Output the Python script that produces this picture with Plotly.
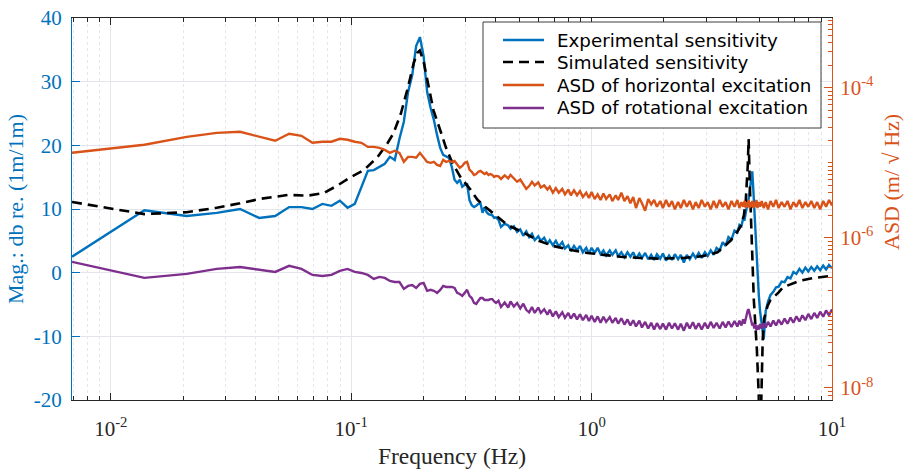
import plotly.graph_objects as go

# ---------------- data ----------------
freq_low = [0.0069, 0.0138, 0.0207, 0.0276, 0.0345, 0.0414, 0.0483, 0.0552, 0.0621, 0.069,
            0.0759, 0.0828, 0.0897, 0.0966, 0.1035, 0.1104, 0.1173, 0.1242, 0.1311, 0.138,
            0.1449, 0.1518, 0.1587, 0.1656, 0.1725, 0.1794, 0.1863, 0.1932, 0.2001, 0.207,
            0.2139, 0.2208, 0.2277, 0.2346, 0.2415, 0.2484, 0.2553, 0.2622, 0.2691, 0.276,
            0.2829, 0.2898, 0.2967, 0.3036, 0.3105, 0.3174, 0.3243, 0.3312, 0.3381, 0.345,
            0.3519, 0.3588, 0.3657, 0.3726, 0.3795, 0.3864, 0.3933, 0.4002]
freq_high = [0.41, 0.42, 0.435, 0.45, 0.46, 0.475, 0.49, 0.505, 0.52, 0.535,
             0.55, 0.565, 0.58, 0.6, 0.615, 0.635, 0.655, 0.67, 0.69, 0.71,
             0.73, 0.755, 0.775, 0.8, 0.82, 0.845, 0.87, 0.895, 0.92, 0.95,
             0.975, 1.0, 1.03, 1.06, 1.09, 1.12, 1.15, 1.19, 1.22, 1.26,
             1.29, 1.33, 1.37, 1.41, 1.45, 1.49, 1.53, 1.58, 1.62, 1.67,
             1.72, 1.77, 1.82, 1.87, 1.93, 1.98, 2.04, 2.1, 2.16, 2.22,
             2.29, 2.35, 2.42, 2.49, 2.56, 2.64, 2.71, 2.79, 2.87, 2.96,
             3.04, 3.13, 3.22, 3.31, 3.41, 3.51, 3.61, 3.71, 3.82, 3.93,
             4.04, 4.12, 4.2, 4.27, 4.33, 4.38, 4.42, 4.46, 4.5, 4.54,
             4.58, 4.62, 4.66, 4.7, 4.75, 4.8, 4.85, 4.9, 4.96, 5.02,
             5.1, 5.2, 5.3, 5.42, 5.55, 5.7, 5.85, 6.0, 6.17, 6.35,
             6.53, 6.72, 6.91, 7.11, 7.32, 7.53, 7.75, 7.97, 8.2, 8.44,
             8.68, 8.93, 9.19, 9.45, 9.72, 10.0]

exp_db_low = [2.5, 9.8, 8.9, 9.4, 10.0, 8.6, 8.9, 10.3, 10.3, 10.0,
              10.8, 10.5, 11.3, 10.2, 10.8, 13.5, 16.0, 16.1, 16.6, 17.1,
              18.2, 17.7, 21.0, 23.7, 28.4, 31.0, 35.6, 37.0, 34.0, 28.4,
              25.9, 24.0, 21.6, 19.6, 18.5, 18.2, 18.0, 16.6, 14.6, 14.1,
              14.6, 13.5, 13.8, 13.9, 11.4, 10.6, 10.3, 10.5, 10.8, 10.9,
              9.4, 10.3, 9.5, 9.2, 9.1, 9.0, 8.6, 8.7]
exp_db_high = [8.3, 7.2, 7.7, 7.4, 6.9, 7.3, 6.4, 6.8, 5.8, 6.5,
               5.6, 6.1, 5.1, 5.7, 5.0, 5.5, 4.5, 5.1, 4.3, 5.0,
               4.1, 4.8, 3.8, 4.3, 3.4, 4.2, 3.5, 4.2, 3.2, 3.9,
               3.0, 3.9, 3.1, 3.9, 2.9, 3.5, 2.7, 3.5, 2.8, 3.5,
               2.6, 3.2, 2.4, 3.2, 2.5, 3.2, 2.2, 3.0, 2.3, 3.1,
               2.1, 2.8, 2.0, 2.9, 2.2, 3.0, 1.9, 2.7, 2.0, 2.9,
               2.1, 2.8, 1.6, 2.8, 2.1, 3.0, 2.3, 3.1, 2.3, 3.2,
               2.6, 3.5, 2.8, 3.9, 3.5, 4.8, 4.2, 5.6, 5.2, 6.6,
               6.3, 7.5, 7.3, 8.5, 8.4, 9.6, 9.8, 11.1, 11.6, 12.8,
               14.2, 15.6, 15.9, 13.5, 10.0, 6.0, 2.5, -0.5, -3.5, -6.0,
               -8.5, -10.5, -6.0, -4.5, -3.5, -3.0, -2.3, -2.2, -1.4, -1.5,
               -0.7, -0.9, 0.1, -0.2, 0.6, 0.0, 0.8, 0.2, 0.9, 0.3,
               1.0, 0.4, 1.1, 0.5, 1.2, 0.7]

horiz_asd_low = [1.36e-5, 1.74e-5, 2.22e-5, 2.51e-5, 2.59e-5, 2.22e-5, 1.97e-5, 2.44e-5, 2.29e-5, 1.85e-5,
                 1.91e-5, 1.91e-5, 2.09e-5, 2.03e-5, 1.91e-5, 1.85e-5, 1.63e-5, 1.63e-5, 1.58e-5, 1.49e-5,
                 1.36e-5, 1.45e-5, 1.36e-5, 1.03e-5, 1.20e-5, 1.20e-5, 1.17e-5, 1.36e-5, 1.17e-5, 1.03e-5,
                 1.00e-5, 1.03e-5, 9.4e-6, 9.1e-6, 1.10e-5, 1.03e-5, 1.06e-5, 1.03e-5, 1.06e-5, 9.7e-6,
                 8.6e-6, 9.1e-6, 1.00e-5, 1.03e-5, 8.1e-6, 7.6e-6, 6.9e-6, 7.1e-6, 7.6e-6, 7.8e-6,
                 7.4e-6, 7.1e-6, 7.4e-6, 6.9e-6, 7.1e-6, 6.9e-6, 6.5e-6, 6.7e-6]
horiz_asd_high = [6.6e-6, 6.1e-6, 6.8e-6, 6.2e-6, 6.9e-6, 6.3e-6, 5.6e-6, 6.0e-6, 5.1e-6, 4.5e-6,
                  4.9e-6, 5.6e-6, 5.0e-6, 5.5e-6, 4.7e-6, 5.0e-6, 4.4e-6, 4.8e-6, 4.0e-6, 4.6e-6,
                  4.0e-6, 4.5e-6, 3.8e-6, 4.4e-6, 3.7e-6, 4.3e-6, 3.7e-6, 4.2e-6, 3.5e-6, 4.0e-6,
                  3.4e-6, 4.1e-6, 3.3e-6, 3.8e-6, 3.2e-6, 3.9e-6, 3.3e-6, 3.8e-6, 3.1e-6, 3.7e-6,
                  3.2e-6, 4.0e-6, 3.1e-6, 3.6e-6, 2.9e-6, 3.5e-6, 2.5e-6, 3.4e-6, 2.9e-6, 2.3e-6,
                  3.3e-6, 2.8e-6, 3.2e-6, 2.6e-6, 3.1e-6, 2.5e-6, 3.2e-6, 2.6e-6, 3.1e-6, 2.4e-6,
                  3.0e-6, 2.5e-6, 3.2e-6, 2.6e-6, 3.1e-6, 2.4e-6, 3.0e-6, 2.5e-6, 3.2e-6, 2.6e-6,
                  3.0e-6, 2.4e-6, 3.1e-6, 2.5e-6, 3.2e-6, 2.6e-6, 3.0e-6, 2.4e-6, 3.1e-6, 2.6e-6,
                  3.2e-6, 2.5e-6, 3.0e-6, 2.6e-6, 3.1e-6, 2.5e-6, 3.0e-6, 2.6e-6, 3.2e-6, 2.5e-6,
                  3.0e-6, 2.6e-6, 3.1e-6, 2.5e-6, 3.0e-6, 2.6e-6, 3.2e-6, 2.5e-6, 3.0e-6, 2.6e-6,
                  3.1e-6, 2.5e-6, 3.0e-6, 2.4e-6, 3.1e-6, 2.6e-6, 3.2e-6, 2.5e-6, 3.0e-6, 2.6e-6,
                  3.1e-6, 2.4e-6, 3.0e-6, 2.6e-6, 3.2e-6, 2.5e-6, 3.0e-6, 2.6e-6, 3.1e-6, 2.5e-6,
                  3.0e-6, 2.4e-6, 3.1e-6, 2.6e-6, 3.2e-6, 2.7e-6]

rot_asd_low = [4.79e-7, 2.93e-7, 3.31e-7, 3.86e-7, 4.10e-7, 3.74e-7, 3.52e-7, 4.24e-7, 3.86e-7, 3.21e-7,
               3.11e-7, 3.21e-7, 3.63e-7, 3.86e-7, 3.52e-7, 3.41e-7, 3.21e-7, 2.84e-7, 3.02e-7, 2.93e-7,
               2.67e-7, 2.59e-7, 2.59e-7, 2.09e-7, 2.29e-7, 2.36e-7, 2.15e-7, 2.44e-7, 2.51e-7, 1.97e-7,
               2.03e-7, 1.97e-7, 1.85e-7, 2.03e-7, 2.29e-7, 2.22e-7, 2.22e-7, 2.22e-7, 2.15e-7, 1.85e-7,
               1.79e-7, 1.69e-7, 1.85e-7, 2.03e-7, 1.69e-7, 1.58e-7, 1.36e-7, 1.32e-7, 1.45e-7, 1.58e-7,
               1.58e-7, 1.49e-7, 1.49e-7, 1.49e-7, 1.53e-7, 1.53e-7, 1.42e-7, 1.36e-7]
rot_asd_high = [1.45e-7, 1.20e-7, 1.38e-7, 1.18e-7, 1.42e-7, 1.22e-7, 1.36e-7, 1.15e-7, 1.33e-7, 1.10e-7,
                1.02e-7, 1.20e-7, 1.00e-7, 1.18e-7, 1.00e-7, 1.12e-7, 9.5e-8, 1.10e-7, 9.0e-8, 1.05e-7,
                8.8e-8, 1.02e-7, 8.6e-8, 1.00e-7, 8.4e-8, 9.8e-8, 8.2e-8, 9.6e-8, 8.0e-8, 9.4e-8,
                7.8e-8, 9.2e-8, 7.6e-8, 9.0e-8, 7.4e-8, 8.9e-8, 7.6e-8, 8.8e-8, 7.4e-8, 8.6e-8,
                7.2e-8, 8.5e-8, 7.0e-8, 8.2e-8, 6.8e-8, 8.0e-8, 6.6e-8, 7.9e-8, 6.4e-8, 7.6e-8,
                6.2e-8, 7.4e-8, 6.0e-8, 7.3e-8, 6.1e-8, 7.2e-8, 6.0e-8, 7.4e-8, 6.2e-8, 7.3e-8,
                6.0e-8, 7.2e-8, 5.8e-8, 7.4e-8, 6.2e-8, 7.5e-8, 6.1e-8, 7.3e-8, 6.0e-8, 7.4e-8,
                6.2e-8, 7.6e-8, 6.3e-8, 7.4e-8, 6.2e-8, 7.6e-8, 6.4e-8, 7.7e-8, 6.5e-8, 7.8e-8,
                6.6e-8, 7.9e-8, 6.8e-8, 8.2e-8, 7.2e-8, 8.8e-8, 9.6e-8, 1.08e-7, 1.12e-7, 9.8e-8,
                8.4e-8, 7.4e-8, 6.8e-8, 7.4e-8, 6.2e-8, 7.0e-8, 5.9e-8, 6.8e-8, 6.0e-8, 7.1e-8,
                6.2e-8, 7.3e-8, 6.4e-8, 7.6e-8, 6.6e-8, 7.9e-8, 6.8e-8, 8.1e-8, 7.0e-8, 8.4e-8,
                7.2e-8, 8.7e-8, 7.4e-8, 9.0e-8, 7.7e-8, 9.3e-8, 8.0e-8, 9.7e-8, 8.3e-8, 1.0e-7,
                8.6e-8, 1.04e-7, 8.9e-8, 1.08e-7, 9.3e-8, 1.12e-7]

sim_freq = [0.0069, 0.0138, 0.0207, 0.0276, 0.0345, 0.042, 0.0545, 0.066, 0.0768, 0.0878,
            0.0995, 0.113, 0.129, 0.142, 0.150, 0.161, 0.172, 0.182, 0.188, 0.193,
            0.2, 0.21, 0.22, 0.236, 0.247, 0.264, 0.285, 0.314, 0.336, 0.362,
            0.38, 0.406, 0.446, 0.515, 0.595, 0.69, 0.81, 0.96, 1.12, 1.32,
            1.6, 1.94, 2.4, 2.9, 3.34, 3.78, 4.05, 4.17, 4.3, 4.38,
            4.46, 4.5, 4.55, 4.64, 4.73, 4.87, 4.96, 5.0, 5.03, 5.08,
            5.15, 5.22, 5.4, 5.55, 6.0, 6.25, 7.3, 8.5, 10.0]
sim_db = [11.1, 9.2, 9.5, 10.2, 10.9, 11.6, 12.2, 12.1, 12.5, 13.7,
          15.0, 16.1, 18.2, 20.4, 21.9, 25.0, 29.0, 32.9, 34.5, 34.9,
          33.2, 29.0, 25.5, 22.1, 19.8, 17.2, 15.0, 13.0, 11.4, 10.3,
          9.6, 8.8, 7.5, 6.4, 5.1, 4.2, 3.6, 3.1, 2.8, 2.5,
          2.3, 2.2, 2.3, 2.6, 3.2, 5.0, 6.5, 7.3, 9.0, 11.4,
          16.6, 21.0, 14.0, 6.0, -4.3, -12.1, -19.5, -35.0, -40.0, -20.0,
          -10.5, -7.2, -5.2, -4.3, -3.1, -2.3, -1.3, -0.8, -0.5]

series_names = ["Experimental sensitivity", "Simulated sensitivity",
                "ASD of horizontal excitation", "ASD of rotational excitation"]
mag_ticks = [-20, -10, 0, 10, 20, 30, 40]
mag_ticktext = ["-20", "-10", "0", "10", "20", "30", "40"]
freq_ticks = [0.01, 0.1, 1, 10]
freq_ticktext = ["10<sup>-2</sup>", "10<sup>-1</sup>", "10<sup>0</sup>", "10<sup>1</sup>"]
asd_ticks = [1e-8, 1e-6, 1e-4]
asd_ticktext = ["10<sup>-8</sup>", "10<sup>-6</sup>", "10<sup>-4</sup>"]

freq_meas = freq_low + freq_high
exp_db = exp_db_low + exp_db_high
horiz_asd = horiz_asd_low + horiz_asd_high
rot_asd = rot_asd_low + rot_asd_high
assert len(freq_meas) == len(exp_db) == len(horiz_asd) == len(rot_asd)
assert len(sim_freq) == len(sim_db)

# ---------------- styling ----------------
BLUE = "#0072BD"
ORANGE = "#D95319"
PURPLE = "#7E2F8E"
AXIS = "#262626"
SERIF = "Liberation Serif"
DASH = "10px,6px"

styles = [dict(color=BLUE, width=2.4),
          dict(color="black", width=2.6, dash=DASH),
          dict(color=ORANGE, width=2.4),
          dict(color=PURPLE, width=2.4)]

x_minor = [k * 10.0 ** e for e in range(-3, 1) for k in range(2, 10)]
y2_minor = [k * 10.0 ** e for e in range(-9, -2) for k in range(1, 10)]

fig = go.Figure()
fig.add_trace(go.Scatter(x=freq_meas, y=exp_db, mode="lines", name=series_names[0],
                         line=styles[0], yaxis="y"))
fig.add_trace(go.Scatter(x=sim_freq, y=sim_db, mode="lines", name=series_names[1],
                         line=styles[1], yaxis="y"))
fig.add_trace(go.Scatter(x=freq_meas, y=horiz_asd, mode="lines", name=series_names[2],
                         line=styles[2], yaxis="y2"))
fig.add_trace(go.Scatter(x=freq_meas, y=rot_asd, mode="lines", name=series_names[3],
                         line=styles[3], yaxis="y2"))

# ---- legend box drawn in paper coordinates (MATLAB-like layout) ----
L, R, T, B = 72, 832, 18, 400          # plot-area pixel frame
def px(xp):
    return (xp - L) / (R - L)
def py(yp):
    return 1 - (yp - T) / (B - T)

shapes = [dict(type="rect", xref="paper", yref="paper",
               x0=px(483), x1=px(821), y0=py(128), y1=py(22),
               fillcolor="white", line=dict(color="#3c3c3c", width=1), layer="above")]
annotations = []
row_y = [40, 62, 85, 108]
for name, st, ry in zip(series_names, styles, row_y):
    shapes.append(dict(type="line", xref="paper", yref="paper",
                       x0=px(503), x1=px(544), y0=py(ry), y1=py(ry),
                       line=dict(color=st["color"], width=st["width"],
                                 dash=st.get("dash", "solid")), layer="above"))
    annotations.append(dict(text=name, xref="paper", yref="paper", x=px(555), y=py(ry),
                            xanchor="left", yanchor="middle", showarrow=False,
                            font=dict(family="DejaVu Sans", size=18.3, color="black")))

annotations.append(dict(text="ASD (m/ √ Hz)", xref="paper", yref="paper",
                        x=px(891), y=py(182), xanchor="center", yanchor="middle",
                        textangle=-90, showarrow=False,
                        font=dict(family=SERIF, size=22, color=ORANGE)))

fig.update_layout(
    width=904, height=469,
    margin=dict(l=L, r=904 - R, t=T, b=469 - B, autoexpand=False),
    paper_bgcolor="white", plot_bgcolor="white",
    showlegend=False,
    shapes=shapes, annotations=annotations,
    xaxis=dict(type="log", range=[-2.1612, 1.0], automargin=False,
               tickvals=freq_ticks, ticktext=freq_ticktext,
               tickfont=dict(family=SERIF, size=21, color=AXIS),
               ticks="inside", ticklen=7, tickcolor=AXIS, tickwidth=1,
               ticklabelstandoff=10,
               showline=True, linecolor=AXIS, linewidth=1, mirror="ticks",
               showgrid=True, gridcolor="#e3e6ea", gridwidth=1,
               minor=dict(tickvals=x_minor, ticks="inside", ticklen=4, tickcolor=AXIS,
                          showgrid=True, gridcolor="#e6e6e6", griddash="dot", gridwidth=1),
               title=dict(text="Frequency (Hz)", font=dict(family=SERIF, size=23.5, color=AXIS),
                          standoff=13),
               zeroline=False),
    yaxis=dict(range=[-20, 40], tickvals=mag_ticks, ticktext=mag_ticktext, automargin=False,
               tickfont=dict(family=SERIF, size=21, color=BLUE),
               ticks="inside", ticklen=8, tickcolor=BLUE, tickwidth=1,
               showline=True, linecolor=BLUE, linewidth=1,
               showgrid=True, gridcolor="#e3e6ea", gridwidth=1, zeroline=False,
               ticklabelstandoff=5,
               title=dict(text="Mag.: db re. (1m/1m)", font=dict(family=SERIF, size=22, color=BLUE),
                          standoff=4)),
    yaxis2=dict(type="log", range=[-8.16, -3.07], overlaying="y", side="right", automargin=False,
                tickvals=asd_ticks, ticktext=asd_ticktext,
                tickfont=dict(family=SERIF, size=21, color=ORANGE),
                ticks="inside", ticklen=8, tickcolor=ORANGE, tickwidth=1,
                showline=True, linecolor=ORANGE, linewidth=1,
                showgrid=False, zeroline=False, ticklabelstandoff=3,
                minor=dict(tickvals=y2_minor, ticks="inside", ticklen=4, tickcolor=ORANGE,
                           showgrid=False)),
)

fig.write_html("out.html")
